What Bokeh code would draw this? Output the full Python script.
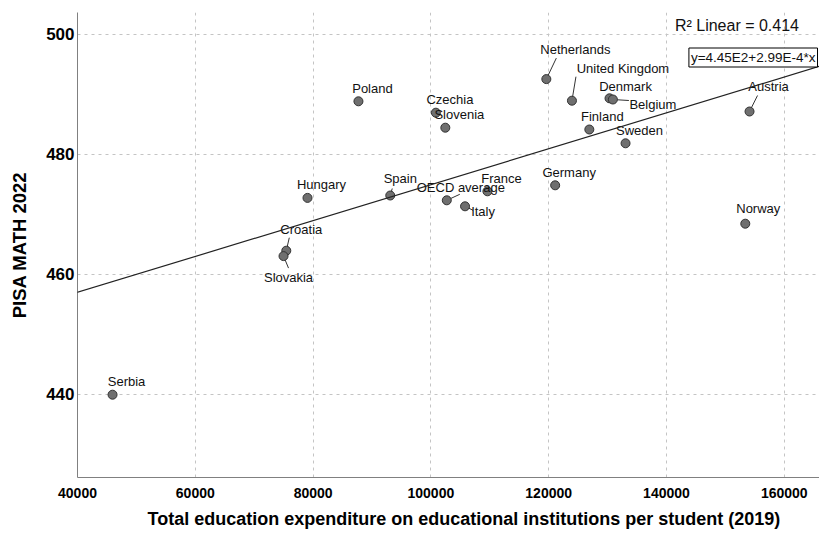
from bokeh.plotting import figure
from bokeh.models import ColumnDataSource, FixedTicker, Slope, Label, BasicTickFormatter, Title
from bokeh.core.properties import value
from bokeh.embed import file_html
from bokeh.resources import INLINE

# ---------------- data ----------------
countries = ["Netherlands", "United Kingdom", "Denmark", "Belgium", "Finland",
             "Sweden", "Austria", "Hungary", "Spain", "OECD average", "Italy",
             "France", "Germany", "Croatia", "Slovakia", "Serbia", "Poland",
             "Czechia", "Slovenia", "Norway"]
expenditure = [119600, 123950, 130330, 130900, 126900,
               133050, 154100, 79050, 93100, 102700, 105800,
               109600, 121100, 75450, 74980, 45950, 87700,
               100850, 102450, 153380]
pisa_math = [492.5, 488.9, 489.3, 489.1, 484.1,
             481.8, 487.1, 472.7, 473.1, 472.3, 471.3,
             473.8, 474.8, 463.9, 463.0, 439.9, 488.8,
             486.9, 484.4, 468.4]
fit_intercept = 4.45e2
fit_slope = 2.99e-4
r2_linear = 0.414
x_ticks = [40000, 60000, 80000, 100000, 120000, 140000, 160000]
y_ticks = [440, 460, 480, 500]
x_title = "Total education expenditure on educational institutions per student (2019)"
y_title = "PISA MATH 2022"

# ---------------- layout / style ----------------
FONT = "Liberation Sans"
W, H = 819, 536
ML, MR, MT, MB = 77, 0, 12, 59
X0, X1 = 40000, 165980
Y0, Y1 = 426.1, 503.6
px_x = (W - ML - MR) / (X1 - X0)
px_y = (H - MT - MB) / (Y1 - Y0)

# label offsets (screen px, y down) and optional leader-line ends
default_off = (14, -13)
label_off = {
    "Netherlands": (29, -30), "United Kingdom": (51, -32), "Denmark": (16, -12),
    "Belgium": (40, 5), "Finland": (13, -13), "Sweden": (14, -13),
    "Austria": (19, -25), "Spain": (10, -17), "Italy": (18, 5),
    "Croatia": (15, -21), "Slovakia": (5, 21), "Norway": (13, -15),
}
leader_end = {
    "Netherlands": (10, -21), "United Kingdom": (4, -24), "Belgium": (16, 1),
    "Austria": (8, -16), "OECD average": (13, -6), "Italy": (8, 4),
    "Croatia": (3, -13), "Slovakia": (5, 12), "Spain": (2, -7),
}

dx = [label_off.get(c, default_off)[0] for c in countries]
dy = [label_off.get(c, default_off)[1] for c in countries]
src = ColumnDataSource(dict(x=expenditure, y=pisa_math, name=countries, dx=dx, dy=dy))

lx0, ly0, lx1, ly1 = [], [], [], []
for c, xv, yv in zip(countries, expenditure, pisa_math):
    if c in leader_end:
        ex, ey = leader_end[c]
        lx0.append(xv); ly0.append(yv)
        lx1.append(xv + ex / px_x); ly1.append(yv - ey / px_y)

p = figure(width=W, height=H, output_backend="svg", toolbar_location=None,
           x_range=(X0, X1), y_range=(Y0, Y1),
           min_border_left=ML, min_border_right=MR, min_border_top=MT,
           min_border_bottom=MB)
p.outline_line_color = None
p.background_fill_color = "white"

for ax in (p.xaxis[0], p.yaxis[0]):
    ax.axis_line_color = "#808080"
    ax.axis_line_width = 1
    ax.major_tick_line_color = None
    ax.minor_tick_line_color = None
    ax.major_tick_out = 0
    ax.major_tick_in = 0
    ax.major_label_text_font = FONT
    ax.major_label_text_font_style = "bold"
    ax.major_label_text_color = "black"
    ax.axis_label_text_font = FONT
    ax.axis_label_text_font_style = "bold"
    ax.axis_label_text_color = "black"

p.xaxis.ticker = FixedTicker(ticks=x_ticks)
p.yaxis.ticker = FixedTicker(ticks=y_ticks)
p.xaxis.formatter = BasicTickFormatter(use_scientific=False)
p.xaxis.major_label_text_font_size = "14px"
p.yaxis.major_label_text_font_size = "17px"
p.xaxis.major_label_standoff = 10
p.yaxis.major_label_standoff = 3
p.yaxis.axis_label = y_title
p.yaxis.axis_label_text_font_size = "18.5px"
p.yaxis.axis_label_standoff = 13

p.add_layout(Title(text=x_title, align="left", offset=70, standoff=12,
                   text_font=FONT, text_font_style="bold",
                   text_font_size="18px", text_color="black"), "below")

for g in (p.xgrid[0], p.ygrid[0]):
    g.grid_line_color = "#c4c4c4"
    g.grid_line_dash = "3 4"
    g.grid_line_width = 1
p.xgrid.ticker = FixedTicker(ticks=x_ticks)
p.ygrid.ticker = FixedTicker(ticks=y_ticks)

p.add_layout(Slope(gradient=fit_slope, y_intercept=fit_intercept,
                   line_color="#222222", line_width=1.2))

p.segment(lx0, ly0, lx1, ly1, line_color="#333333", line_width=1)

p.scatter("x", "y", source=src, size=9, fill_color="#6f6f6f",
          line_color="#333333", line_width=1)

p.text("x", "y", text="name", source=src, x_offset="dx", y_offset="dy",
       text_align="center", text_baseline="middle",
       text_font=value(FONT), text_font_size="13px", text_color="#111111")

p.add_layout(Label(x=151966, y=501.4, text=f"R² Linear = {r2_linear}",
                   text_align="center", text_baseline="middle",
                   text_font=FONT, text_font_size="16px", text_color="#111111"))

eq = f"y={fit_intercept:.2E}+{fit_slope:.2E}*x".replace("E+0", "E").replace("E-0", "E-")
p.add_layout(Label(x=X1, y=496.1, x_offset=-2, text=eq,
                   text_align="right", text_baseline="middle",
                   text_font=FONT, text_font_size="13.5px", text_color="#111111",
                   border_line_color="black", border_line_width=1,
                   background_fill_color="white", padding=2))

open("out.html", "w").write(file_html(p, INLINE))
